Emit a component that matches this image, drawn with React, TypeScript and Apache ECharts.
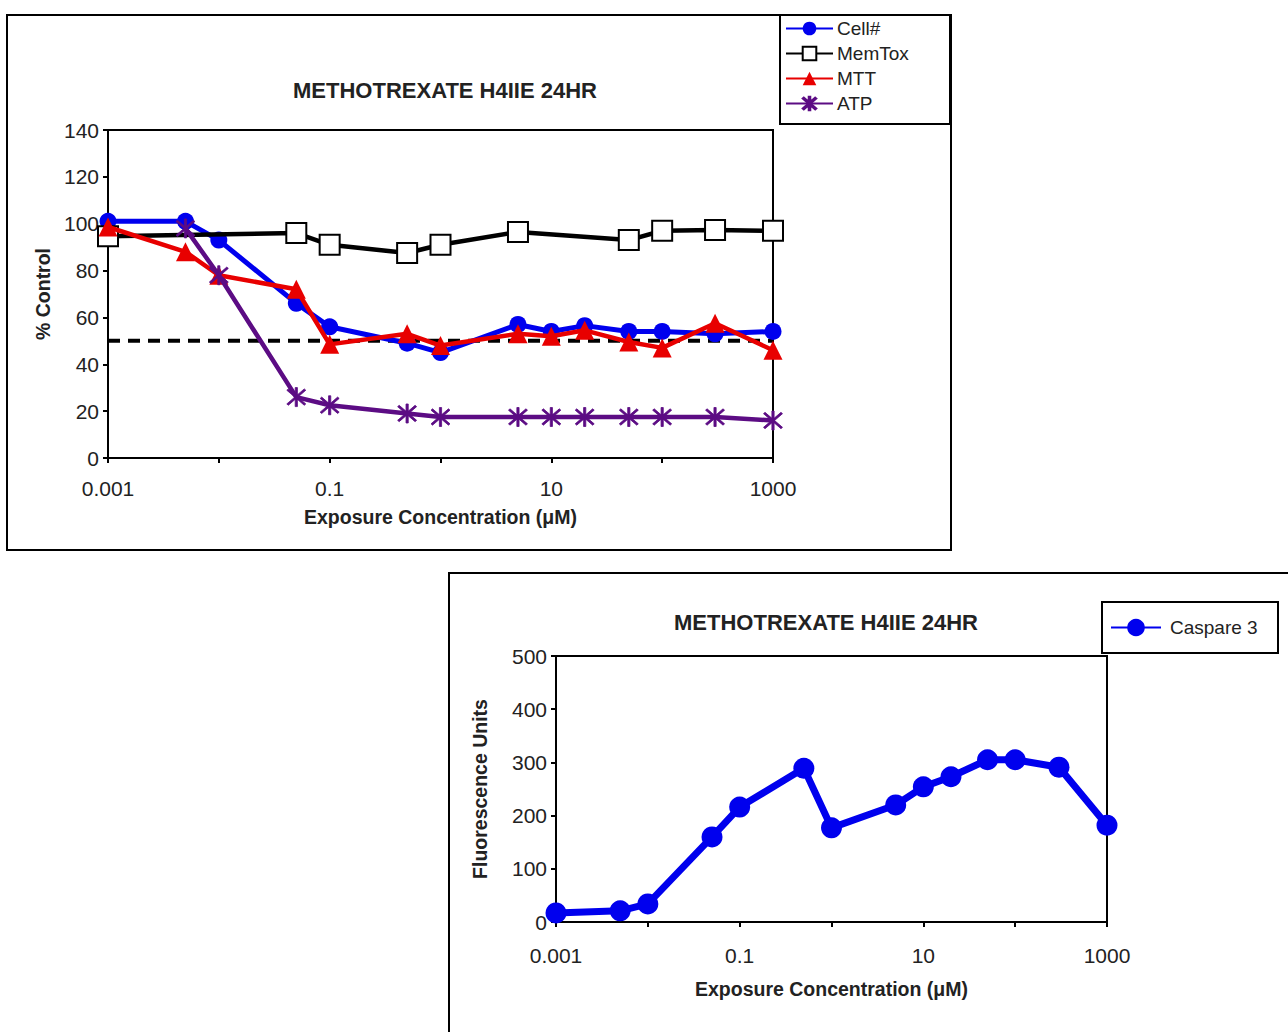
import React, { useEffect, useRef } from "react";
import * as echarts from "echarts";

// ---- Data ----
const concentrations = [0.001, 0.005, 0.01, 0.05, 0.1, 0.5, 1, 5, 10, 20, 50, 100, 300, 1000];
const cellCount = [101, 101, 93, 66, 56, 49, 45, 57, 54, 56.5, 54, 54, 53, 54];
const memTox = [94.7, null, null, 96, 91, 87.5, 91, 96.5, null, null, 93, 97, 97.3, 97];
const mtt = [98.6, 88, 78, 72, 48.5, 53, 48, 53, 52, 54.5, 49.5, 47, 57.5, 46];
const atp = [null, 98, 78, 26, 22.5, 19, 17.5, 17.5, 17.5, 17.5, 17.5, 17.5, 17.5, 16];
const caspase3 = [17, 21, 34, 160, 216, 289, 177, 220, 254, 273, 305, 305, 291, 182];
const thresholdLine = [50, 50];
const thresholdX = [0.001, 1000];
const xTickLabels = ["0.001", "0.1", "10", "1000"];

const FONT = "'Liberation Sans', Arial, sans-serif";
const TXT = "#222";

const pairs = (xs: number[], ys: (number | null)[]) => xs.map((x, i) => [x, ys[i]]);

const asterisk =
  "path://M9 0 L11 0 L11 20 L9 20 Z M1.4 2.8 L2.8 1.4 L18.6 17.2 L17.2 18.6 Z M17.2 1.4 L18.6 2.8 L2.8 18.6 L1.4 17.2 Z";

function xAxisCfg(gridIndex: number, nameGap: number, labelMargin: number) {
  return {
    type: "log",
    logBase: 10,
    gridIndex,
    min: 0.001,
    max: 1000,
    splitNumber: 6,
    name: "Exposure Concentration (μM)",
    nameLocation: "middle",
    nameGap,
    nameTextStyle: { fontFamily: FONT, fontWeight: "bold", fontSize: 19.5, color: TXT },
    axisLine: { show: true, lineStyle: { color: "#000", width: 2 } },
    axisTick: { show: true, inside: false, length: 5, lineStyle: { color: "#000", width: 2 } },
    splitLine: { show: false },
    axisLabel: {
      fontFamily: FONT,
      fontSize: 21,
      color: TXT,
      margin: labelMargin,
      showMinLabel: true,
      showMaxLabel: true,
      formatter: (v: number) => {
        const e = Math.round(Math.log10(v));
        if ((e + 3) % 2 !== 0) return "";
        return xTickLabels[(e + 3) / 2] ?? "";
      },
    },
  };
}

function yAxisCfg(gridIndex: number, max: number, interval: number, name: string, nameGap: number) {
  return {
    type: "value",
    gridIndex,
    min: 0,
    max,
    interval,
    name,
    nameLocation: "middle",
    nameGap,
    nameRotate: 90,
    nameTextStyle: { fontFamily: FONT, fontWeight: "bold", fontSize: 19.5, color: TXT },
    axisLine: { show: true, lineStyle: { color: "#000", width: 2 } },
    axisTick: { show: true, inside: false, length: 5, lineStyle: { color: "#000", width: 2 } },
    splitLine: { show: false },
    axisLabel: { fontFamily: FONT, fontSize: 21, color: TXT, margin: 9 },
  };
}

export default function App() {
  const ref = useRef<HTMLDivElement>(null);

  useEffect(() => {
    if (!ref.current) return;
    const chart = echarts.init(ref.current, undefined, { renderer: "svg" });
    const option: any = {
      animation: false,
      backgroundColor: "#fff",
      title: [
        {
          text: "METHOTREXATE H4IIE 24HR",
          left: 440,
          top: 74,
          textAlign: "center",
          textStyle: { fontFamily: FONT, fontWeight: "bold", fontSize: 22, color: TXT },
        },
        {
          text: "METHOTREXATE H4IIE 24HR",
          left: 821,
          top: 606,
          textAlign: "center",
          textStyle: { fontFamily: FONT, fontWeight: "bold", fontSize: 22, color: TXT },
        },
      ],
      graphic: [
        {
          type: "rect",
          z: 0,
          shape: { x: 7, y: 15, width: 944, height: 535 },
          style: { fill: "none", stroke: "#000", lineWidth: 2 },
        },
        {
          type: "rect",
          z: 0,
          shape: { x: 449, y: 573, width: 900, height: 520 },
          style: { fill: "none", stroke: "#000", lineWidth: 2 },
        },
        {
          type: "rect",
          z: 5,
          shape: { x: 780, y: 15, width: 170, height: 109 },
          style: { fill: "#fff", stroke: "#000", lineWidth: 2 },
        },
        {
          type: "rect",
          z: 5,
          shape: { x: 1102, y: 602, width: 176, height: 51 },
          style: { fill: "#fff", stroke: "#000", lineWidth: 2 },
        },
      ],
      legend: [
        {
          z: 10,
          orient: "vertical",
          left: 785,
          top: 19,
          padding: 0,
          itemWidth: 47,
          itemHeight: 17,
          itemGap: 6,
          textStyle: { fontFamily: FONT, fontSize: 19, color: TXT, padding: [0, 0, 0, -1] },
          data: ["Cell#", "MemTox", "MTT", "ATP"],
        },
        {
          z: 10,
          left: 1110,
          top: 618,
          padding: 0,
          itemWidth: 50,
          itemHeight: 22,
          textStyle: { fontFamily: FONT, fontSize: 19, color: TXT, padding: [0, 0, 0, 4] },
          data: ["Caspare 3"],
        },
      ],
      grid: [
        { left: 108, top: 130, width: 665, height: 328, show: true, borderColor: "#000", borderWidth: 2, backgroundColor: "transparent" },
        { left: 556, top: 656, width: 551, height: 266, show: true, borderColor: "#000", borderWidth: 2, backgroundColor: "transparent" },
      ],
      xAxis: [xAxisCfg(0, 49, 20), xAxisCfg(1, 57, 23)],
      yAxis: [yAxisCfg(0, 140, 20, "% Control", 51), yAxisCfg(1, 500, 100, "Fluorescence Units", 66)],
      series: [
        {
          name: "50%",
          type: "line",
          xAxisIndex: 0,
          yAxisIndex: 0,
          data: pairs(thresholdX, thresholdLine),
          symbol: "none",
          lineStyle: { color: "#000", width: 4, type: [12, 8] },
          z: 1,
          silent: true,
        },
        {
          name: "Cell#",
          type: "line",
          xAxisIndex: 0,
          yAxisIndex: 0,
          data: pairs(concentrations, cellCount),
          symbol: "circle",
          symbolSize: 17,
          color: "#0000ee",
          itemStyle: { color: "#0000ee" },
          lineStyle: { color: "#0000ee", width: 5 },
          z: 2,
        },
        {
          name: "MemTox",
          type: "line",
          xAxisIndex: 0,
          yAxisIndex: 0,
          data: pairs(concentrations, memTox),
          connectNulls: true,
          symbol: "rect",
          symbolSize: 20,
          color: "#000",
          itemStyle: { color: "#fff", borderColor: "#000", borderWidth: 2 },
          lineStyle: { color: "#000", width: 4.5 },
          z: 3,
        },
        {
          name: "MTT",
          type: "line",
          xAxisIndex: 0,
          yAxisIndex: 0,
          data: pairs(concentrations, mtt),
          symbol: "triangle",
          symbolSize: 19,
          color: "#e80000",
          itemStyle: { color: "#e80000" },
          lineStyle: { color: "#e80000", width: 4.5 },
          z: 4,
        },
        {
          name: "ATP",
          type: "line",
          xAxisIndex: 0,
          yAxisIndex: 0,
          data: pairs(concentrations, atp),
          symbol: asterisk,
          symbolSize: 19,
          color: "#5c0c84",
          itemStyle: { color: "#5c0c84", borderColor: "#5c0c84", borderWidth: 0.8 },
          lineStyle: { color: "#5c0c84", width: 4.5 },
          z: 5,
        },
        {
          name: "Caspare 3",
          type: "line",
          xAxisIndex: 1,
          yAxisIndex: 1,
          data: pairs(concentrations, caspase3),
          symbol: "circle",
          symbolSize: 21,
          color: "#0000ee",
          itemStyle: { color: "#0000ee" },
          lineStyle: { color: "#0000ee", width: 7 },
          z: 2,
        },
      ],
    };
    chart.setOption(option);
    return () => chart.dispose();
  }, []);

  return (
    <div
      ref={ref}
      style={{ position: "fixed", left: 0, top: 0, width: 1288, height: 1032, background: "#fff" }}
    />
  );
}
